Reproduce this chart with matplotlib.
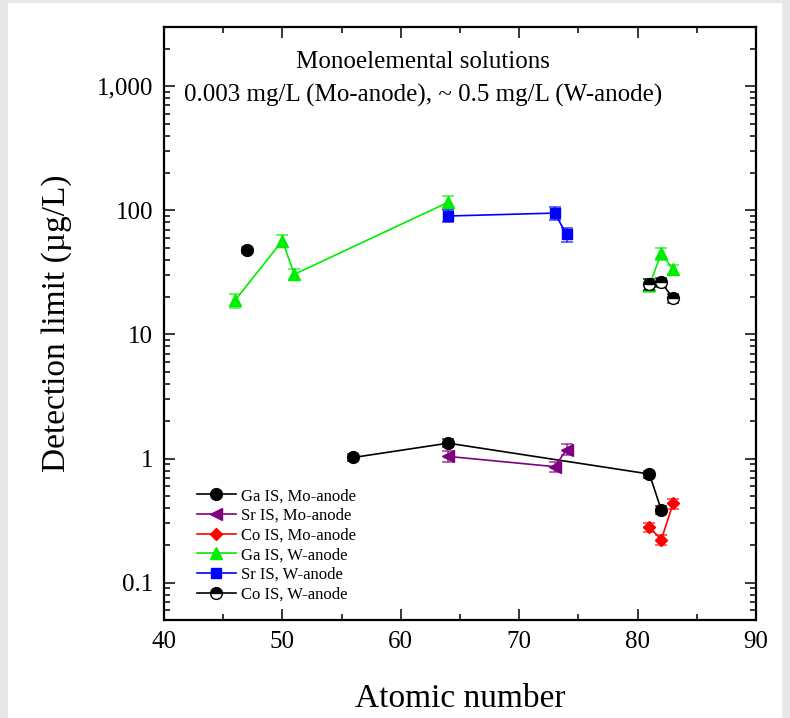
import numpy as np
import matplotlib
matplotlib.use("Agg")
import matplotlib.pyplot as plt
from matplotlib.patches import Rectangle
from matplotlib.ticker import FixedLocator, LogLocator, FuncFormatter, MultipleLocator

plt.rcParams["font.family"] = ["Liberation Serif", "DejaVu Serif"]

nan = np.nan

# Ga IS, Mo-anode (first point stands alone)
ga_mo_x = [47, 52, 56, 64, 81, 82]
ga_mo_y = [48, nan, 1.02, 1.33, 0.75, 0.385]
ga_mo_err = [3, 0, 0.07, 0.1, 0.05, 0.03]

# Sr IS, Mo-anode
sr_mo_x = [64, 73, 74]
sr_mo_y = [1.04, 0.86, 1.18]
sr_mo_err = [0.1, 0.08, 0.12]

# Co IS, Mo-anode
co_mo_x = [81, 82, 83]
co_mo_y = [0.28, 0.222, 0.435]
co_mo_err = [0.025, 0.02, 0.04]

# Ga IS, W-anode
ga_w_x = [46, 50, 51, 64, 72, 81, 82, 83]
ga_w_y = [18.8, 57, 30.5, 116, nan, 25, 45, 33.4]
ga_w_err = [2.5, 6, 3, 14, 0, 3, 5, 3]

# Sr IS, W-anode
sr_w_x = [64, 73, 74]
sr_w_y = [90, 95, 64]
sr_w_err = [10, 12, 8]

# Co IS, W-anode
co_w_x = [81, 82, 83]
co_w_y = [25.5, 26.3, 19.5]
co_w_err = [2.5, 2, 1.5]

fig = plt.figure(figsize=(7.9, 7.18), dpi=100)
fig.patch.set_facecolor("#e8e8e8")
fig.patches.append(Rectangle((8 / 790, 0), 774 / 790, 715 / 718,
                             transform=fig.transFigure, facecolor="white",
                             edgecolor="none", zorder=-10))

ax = fig.add_axes([164 / 790, 98 / 718, 592 / 790, 593 / 718])
ax.set_facecolor("none")

series = [
    (ga_mo_x, ga_mo_y, ga_mo_err, "black", dict(marker="o"), "Ga IS, Mo-anode"),
    (sr_mo_x, sr_mo_y, sr_mo_err, "#800080", dict(marker="<"), "Sr IS, Mo-anode"),
    (co_mo_x, co_mo_y, co_mo_err, "red", dict(marker="D", markersize=6.5), "Co IS, Mo-anode"),
    (ga_w_x, ga_w_y, ga_w_err, "#00ee00", dict(marker="^"), "Ga IS, W-anode"),
    (sr_w_x, sr_w_y, sr_w_err, "blue", dict(marker="s", markersize=7), "Sr IS, W-anode"),
    (co_w_x, co_w_y, co_w_err, "black",
     dict(marker="o", fillstyle="top", markerfacecoloralt="white"), "Co IS, W-anode"),
]

for x, y, err, color, mk, label in series:
    ax.errorbar(x, y, yerr=err, fmt="none", ecolor=color, elinewidth=1.2,
                capsize=4, capthick=1.2, alpha=0.7)
    opts = dict(markersize=8.5)
    opts.update(mk)
    ax.plot(x, y, color=color, linewidth=1.2, markeredgecolor=color,
            markeredgewidth=1.0, label=label, **opts)

ax.set_xlim(40, 90)
ax.set_yscale("log")
ax.set_ylim(0.05, 3000)

ax.xaxis.set_major_locator(MultipleLocator(10))
ax.xaxis.set_minor_locator(MultipleLocator(5))
ax.yaxis.set_major_locator(FixedLocator([0.1, 1, 10, 100, 1000]))
ax.yaxis.set_minor_locator(LogLocator(base=10, subs=np.arange(2, 10)))
ax.yaxis.set_major_formatter(FuncFormatter(lambda v, p: f"{v:,.0f}" if v >= 1 else f"{v:g}"))

ax.tick_params(which="both", direction="in", top=True, right=True, labelsize=18, width=1.1)
ax.tick_params(which="major", length=8, pad=8)
ax.tick_params(which="minor", length=4)
for s in ax.spines.values():
    s.set_linewidth(1.6)

ax.set_xlabel("Atomic number", fontsize=24, labelpad=22)
ax.set_ylabel("Detection limit (µg/L)", fontsize=24, labelpad=18)

ax.text(0.438, 0.941, "Monoelemental solutions", transform=ax.transAxes,
        ha="center", va="center", fontsize=18)
ax.text(0.438, 0.884, "0.003 mg/L (Mo-anode), ~ 0.5 mg/L (W-anode)",
        transform=ax.transAxes, ha="center", va="center", fontsize=18)

ax.legend(loc="lower left", bbox_to_anchor=(0.045, 0.018), frameon=False,
          fontsize=12, handlelength=2.3, handletextpad=0.3, labelspacing=0.22,
          borderaxespad=0)

fig.savefig("out.png", dpi=100)
